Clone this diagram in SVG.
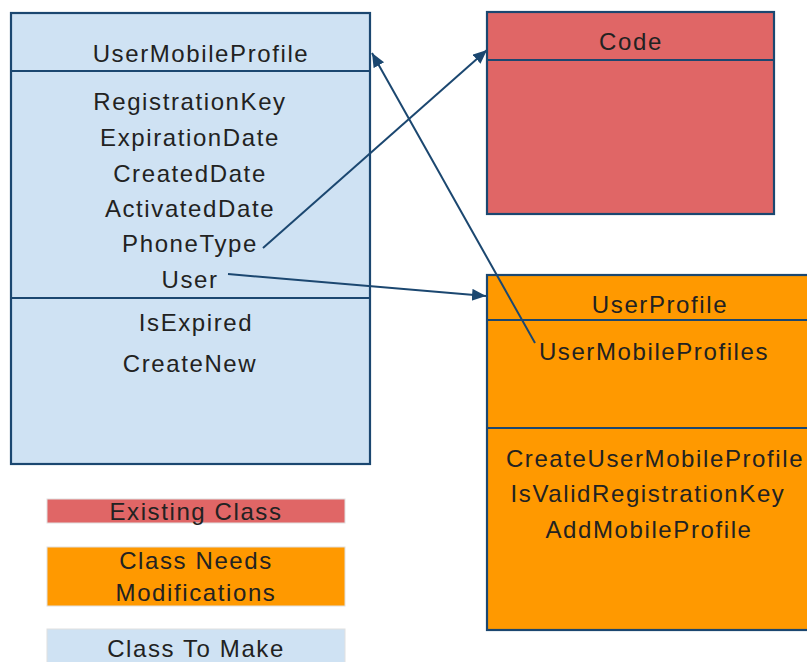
<svg xmlns="http://www.w3.org/2000/svg" width="807" height="662" viewBox="0 0 807 662">
<defs>
<style>
.box{stroke:#1b4770;stroke-width:2.2}
.div{stroke:#1b4770;stroke-width:2}
.t{font-family:"Liberation Sans",Arial,sans-serif;font-size:24px;fill:#222;text-anchor:middle;letter-spacing:1.6px}
.conn{stroke:#1b4770;stroke-width:2;fill:none;marker-end:url(#arr)}
.leg{stroke:#e0e0e0;stroke-width:1}
</style>
<marker id="arr" markerUnits="userSpaceOnUse" markerWidth="16" markerHeight="14" refX="14" refY="6" orient="auto">
<path d="M0,0 L14,6 L0,12 z" fill="#1b4770"/>
</marker>
</defs>
<rect width="807" height="662" fill="#fff"/>
<g id="UserMobileProfile">
<rect class="box" x="11" y="13" width="359" height="451" fill="#cfe2f3"/>
<line class="div" x1="11" y1="71" x2="370" y2="71"/>
<line class="div" x1="11" y1="298" x2="370" y2="298"/>
<text class="t" x="201" y="62">UserMobileProfile</text>
<text class="t" x="190" y="110">RegistrationKey</text>
<text class="t" x="190" y="146">ExpirationDate</text>
<text class="t" x="190" y="182">CreatedDate</text>
<text class="t" x="190" y="217">ActivatedDate</text>
<text class="t" x="190" y="252">PhoneType</text>
<text class="t" x="190" y="288">User</text>
<text class="t" x="196" y="331">IsExpired</text>
<text class="t" x="190" y="372">CreateNew</text>
</g>
<g id="Code">
<rect class="box" x="487" y="12" width="287" height="202" fill="#e06666"/>
<line class="div" x1="487" y1="60" x2="774" y2="60"/>
<text class="t" x="631" y="50">Code</text>
</g>
<g id="UserProfile">
<rect class="box" x="487" y="275" width="340" height="355" fill="#ff9900"/>
<line class="div" x1="487" y1="320" x2="827" y2="320"/>
<line class="div" x1="487" y1="428" x2="827" y2="428"/>
<text class="t" x="660" y="313">UserProfile</text>
<text class="t" x="654" y="360">UserMobileProfiles</text>
<text class="t" x="655" y="467">CreateUserMobileProfile</text>
<text class="t" x="648" y="502">IsValidRegistrationKey</text>
<text class="t" x="649" y="538">AddMobileProfile</text>
</g>
<g id="connectors">
<path class="conn" d="M263,248 L487,50"/>
<path class="conn" d="M228,274 L486,296"/>
<path class="conn" d="M535,343 L372,53"/>
</g>
<g id="legend-existing">
<rect class="leg" x="47" y="499" width="298" height="24" fill="#e06666"/>
<text class="t" x="196" y="520">Existing Class</text>
</g>
<g id="legend-modify">
<rect class="leg" x="47" y="547" width="298" height="59" fill="#ff9900"/>
<text class="t" x="196" y="569">Class Needs</text>
<text class="t" x="196" y="601">Modifications</text>
</g>
<g id="legend-make">
<rect class="leg" x="47" y="629" width="298" height="40" fill="#cfe2f3"/>
<text class="t" x="196" y="657">Class To Make</text>
</g>
</svg>
